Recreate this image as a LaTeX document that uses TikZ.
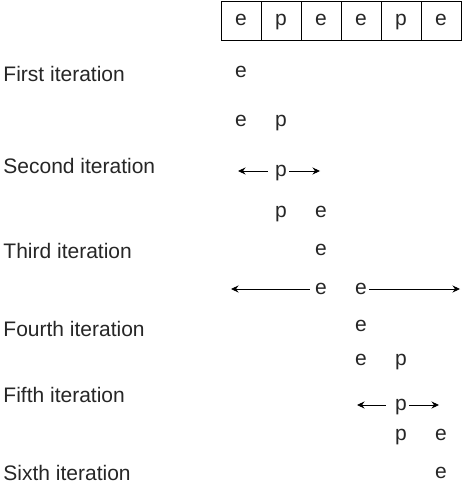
\documentclass[tikz,border=0pt]{standalone}
\usepackage{fontspec}
\setmainfont{Liberation Sans}
\usetikzlibrary{arrows.meta, positioning}

\begin{document}
\begin{tikzpicture}[x=1pt, y=-1pt, >={Stealth[length=7.5pt, width=7pt]}, line width=0.9pt,
  every node/.style={font=\fontsize{21}{25}\selectfont, text=black!85},
  cell/.style={draw, minimum width=40pt, minimum height=39pt, inner sep=0pt,
    text height=10.9pt, text depth=0pt},
  ch/.style={inner xsep=2pt, inner ysep=0pt, text height=10.9pt, text depth=0pt},
  lbl/.style={anchor=base west, inner sep=0pt}]
  \useasboundingbox (0,0) rectangle (469,494);
  % Array
  \foreach \c [count=\i] in {e,p,e,e,p,e}
    \node[cell] (c\i) at (201+40*\i, 20.5) {\c};
  % Iteration labels
  \node[lbl] (it1) at (3,82) {First iteration};
  \node[lbl] (it2) at (3,174) {Second iteration};
  \node[lbl] (it3) at (3,258) {Third iteration};
  \node[lbl] (it4) at (3,336) {Fourth iteration};
  \node[lbl] (it5) at (3,402) {Fifth iteration};
  \node[lbl] (it6) at (3,480) {Sixth iteration};
  % Letters
  \node[ch] (e1) at (241,72) {e};
  \node[ch] (e2) at (241,121) {e};
  \node[ch] (p2) at (281,121) {p};
  \node[ch] (p3) at (281,171) {p};
  \node[ch] (p4) at (281,212) {p};
  \node[ch] (e4) at (321,212) {e};
  \node[ch] (e5) at (321,250) {e};
  \node[ch] (e6a) at (321,289) {e};
  \node[ch] (e6b) at (361,289) {e};
  \node[ch] (e7) at (361,326) {e};
  \node[ch] (e8) at (361,360) {e};
  \node[ch] (p8) at (401,360) {p};
  \node[ch] (p9) at (401,405) {p};
  \node[ch] (p10) at (401,435) {p};
  \node[ch] (e10) at (441,435) {e};
  \node[ch] (e11) at (441,473) {e};
  % Arrow ends
  \coordinate (a3l) at (238,171);
  \coordinate (a3r) at (320,171);
  \coordinate (a6l) at (231,289);
  \coordinate (a6r) at (460,289);
  \coordinate (a9l) at (357,405);
  \coordinate (a9r) at (439,405);
  % Arrows
  \draw[->, shorten <=5pt] (p3) -- (a3l);
  \draw[->] (p3) -- (a3r);
  \draw[->, shorten <=3pt] (e6a) -- (a6l);
  \draw[->] (e6b) -- (a6r);
  \draw[->, shorten <=7pt] (p9) -- (a9l);
  \draw[->] (p9) -- (a9r);
\end{tikzpicture}
\end{document}
